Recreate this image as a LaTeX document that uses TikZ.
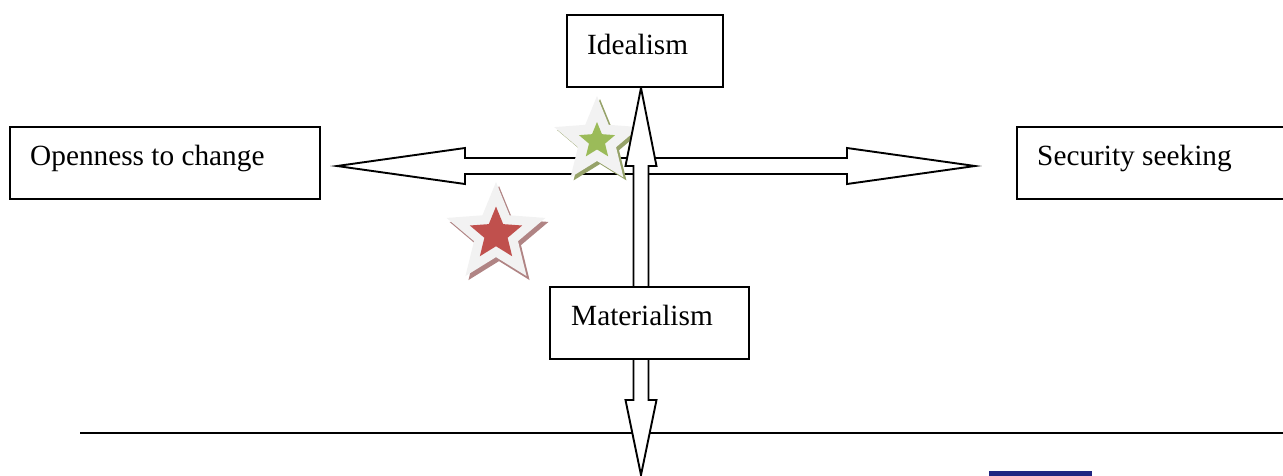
\documentclass[tikz,border=0pt]{standalone}
\usepackage{fontspec}
\setmainfont{Liberation Serif}
\usetikzlibrary{shapes.geometric,calc}
\definecolor{navy}{RGB}{32,38,130}
\definecolor{starpale}{RGB}{242,242,242}
\definecolor{greenstar}{RGB}{155,187,89}
\definecolor{greenshadow}{RGB}{150,162,105}
\definecolor{redstar}{RGB}{192,80,77}
\definecolor{redshadow}{RGB}{176,132,132}
\tikzset{
  box/.style={draw=black, line width=2pt, fill=white, inner sep=0pt},
  lbl/.style={anchor=base west, inner sep=0pt, font=\fontsize{29.3}{34}\selectfont},
  blockarrow/.style={draw=black, line width=1.9pt, fill=white, line join=miter},
  starshape/.style={star, star points=5, star point ratio=2.25, inner sep=0pt, draw=none},
}
\begin{document}
\begin{tikzpicture}[x=1pt,y=-1pt]
\useasboundingbox (0,0) rectangle (1283,475);
% bottom rule
\coordinate (ruleL) at (80,433);
\coordinate (ruleR) at (1283,433);
\draw[line width=1.8pt] (ruleL) -- (ruleR);
% horizontal double block arrow
\coordinate (hL) at (337,166);
\coordinate (hR) at (975,166);
\draw[blockarrow] (hL) -- ($(hL)+(128,-18)$) -- ($(hL)+(128,-8)$) -- ($(hR)+(-128,-8)$) -- ($(hR)+(-128,-18)$) -- (hR)
  -- ($(hR)+(-128,18)$) -- ($(hR)+(-128,8)$) -- ($(hL)+(128,8)$) -- ($(hL)+(128,18)$) -- cycle;
% stars
\node[starshape, fill=greenshadow, minimum size=90pt] (gshadow) at (600,144) {};
\node[starshape, fill=starpale, minimum size=90pt] (gstar) at (597,141) {};
\node[starshape, fill=greenstar, minimum size=38pt] (ginner) at (597,141) {};
\node[starshape, fill=redshadow, minimum size=104pt] (rshadow) at (499,238) {};
\node[starshape, fill=starpale, minimum size=104pt] (rstar) at (496,234) {};
\node[starshape, fill=redstar, minimum size=55pt] (rinner) at (496,234) {};
% vertical double block arrow
\coordinate (vT) at (641,88);
\coordinate (vB) at (641,475);
\draw[blockarrow] (vT) -- ($(vT)+(15.5,78)$) -- ($(vT)+(7.5,78)$) -- ($(vB)+(7.5,-75)$) -- ($(vB)+(15.5,-75)$) -- (vB)
  -- ($(vB)+(-15.5,-75)$) -- ($(vB)+(-7.5,-75)$) -- ($(vT)+(-7.5,78)$) -- ($(vT)+(-15.5,78)$) -- cycle;
% boxes
\node[box, minimum width=156pt, minimum height=72pt] (ideal) at (645,51) {};
\node[lbl] (idealtxt) at (587,54) {Idealism};
\node[box, minimum width=310pt, minimum height=72pt] (open) at (165,163) {};
\node[lbl] (opentxt) at (30,165) {Openness to change};
\node[box, minimum width=280pt, minimum height=72pt] (sec) at (1157,163) {};
\node[lbl] (sectxt) at (1037,165) {Security seeking};
\node[box, minimum width=199pt, minimum height=72pt] (mat) at (649,323) {};
\node[lbl] (mattxt) at (571,325) {Materialism};
% footer fragment
\fill[navy] (989,471) rectangle (1092,478);
\end{tikzpicture}
\end{document}
